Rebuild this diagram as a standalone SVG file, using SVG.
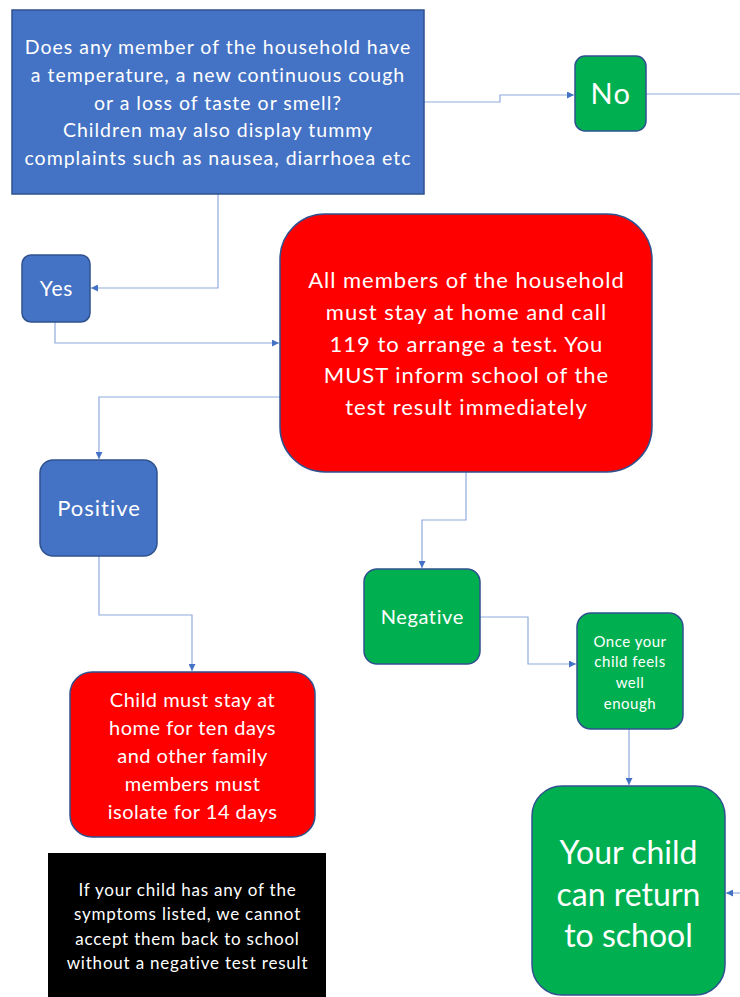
<svg xmlns="http://www.w3.org/2000/svg" width="740" height="997" viewBox="0 0 740 997">
<defs>
<marker id="arr" viewBox="0 0 10 10" refX="10" refY="5" markerWidth="7" markerHeight="7" markerUnits="userSpaceOnUse" orient="auto">
<path d="M0,0 L10,5 L0,10 z" fill="#4472C4"/>
</marker>
<style>
.blue{fill:#4472C4;stroke:#2F528F;stroke-width:1.5}
.green{fill:#00B050;stroke:#2F528F;stroke-width:1.5}
.red{fill:#FF0000;stroke:#2F528F;stroke-width:1.5}
.black{fill:#000000}
text{font-family:Lato,"Open Sans","Liberation Sans",sans-serif;fill:#FFFFFF;text-anchor:middle}
.con path{fill:none;stroke:#8FAADC;stroke-width:1.2}
</style>
</defs>
<rect width="740" height="997" fill="#FFFFFF"/>
<g class="con">
<path d="M424,102 H500 V95 H574" marker-end="url(#arr)"/>
<path d="M646,94 H740"/>
<path d="M218,194 V288 H91" marker-end="url(#arr)"/>
<path d="M55,322 V343 H279" marker-end="url(#arr)"/>
<path d="M280,397 H99 V459" marker-end="url(#arr)"/>
<path d="M99,556 V615 H192 V671" marker-end="url(#arr)"/>
<path d="M466,472 V520 H422 V568" marker-end="url(#arr)"/>
<path d="M480,617 H528 V664 H576" marker-end="url(#arr)"/>
<path d="M629,729 V785" marker-end="url(#arr)"/>
<path d="M740,893 H726" marker-end="url(#arr)"/>
</g>
<g id="question">
<rect class="blue" x="12" y="10" width="412" height="184"/>
<text font-size="19.5" letter-spacing="1"><tspan x="218" y="54">Does any member of the household have</tspan><tspan x="218" y="82">a temperature, a new continuous cough</tspan><tspan x="218" y="110">or a loss of taste or smell?</tspan><tspan x="218" y="137">Children may also display tummy</tspan><tspan x="218" y="165">complaints such as nausea, diarrhoea etc</tspan></text>
</g>
<g id="no">
<rect class="green" x="575" y="56" width="71" height="75" rx="10"/>
<text x="611" y="104" font-size="29" letter-spacing="1.5">No</text>
</g>
<g id="yes">
<rect class="blue" x="22" y="255" width="68" height="67" rx="9"/>
<text x="56.5" y="296" font-size="21" letter-spacing="0.8">Yes</text>
</g>
<g id="stayhome">
<rect class="red" x="280" y="214" width="372" height="258" rx="45"/>
<text font-size="22" letter-spacing="1"><tspan x="466.5" y="288">All members of the household</tspan><tspan x="466.5" y="320">must stay at home and call</tspan><tspan x="466.5" y="352">119 to arrange a test. You</tspan><tspan x="466.5" y="383">MUST inform school of the</tspan><tspan x="466.5" y="415">test result immediately</tspan></text>
</g>
<g id="positive">
<rect class="blue" x="40" y="460" width="117" height="96" rx="13"/>
<text x="99" y="516" font-size="22" letter-spacing="1">Positive</text>
</g>
<g id="negative">
<rect class="green" x="364" y="569" width="116" height="95" rx="13"/>
<text x="422.3" y="624" font-size="20" letter-spacing="0.6">Negative</text>
</g>
<g id="onceyour">
<rect class="green" x="577" y="613" width="106" height="116" rx="14"/>
<text font-size="15" letter-spacing="0.5"><tspan x="630" y="647">Once your</tspan><tspan x="630" y="667">child feels</tspan><tspan x="630" y="688">well</tspan><tspan x="630" y="709">enough</tspan></text>
</g>
<g id="childstay">
<rect class="red" x="70" y="672" width="245" height="165" rx="22"/>
<text font-size="20" letter-spacing="0.5"><tspan x="192.5" y="707">Child must stay at</tspan><tspan x="192.5" y="735">home for ten days</tspan><tspan x="192.5" y="763">and other family</tspan><tspan x="192.5" y="791">members must</tspan><tspan x="192.5" y="819">isolate for 14 days</tspan></text>
</g>
<g id="notice">
<rect class="black" x="48" y="853" width="278" height="144"/>
<text font-size="17" letter-spacing="0.8"><tspan x="187.5" y="896">If your child has any of the</tspan><tspan x="187.5" y="920">symptoms listed, we cannot</tspan><tspan x="187.5" y="945">accept them back to school</tspan><tspan x="187.5" y="969">without a negative test result</tspan></text>
</g>
<g id="return">
<rect class="green" x="532" y="786" width="193" height="209" rx="30"/>
<text font-size="32"><tspan x="628.5" y="864">Your child</tspan><tspan x="628.5" y="906">can return</tspan><tspan x="628.5" y="947">to school</tspan></text>
</g>
</svg>
